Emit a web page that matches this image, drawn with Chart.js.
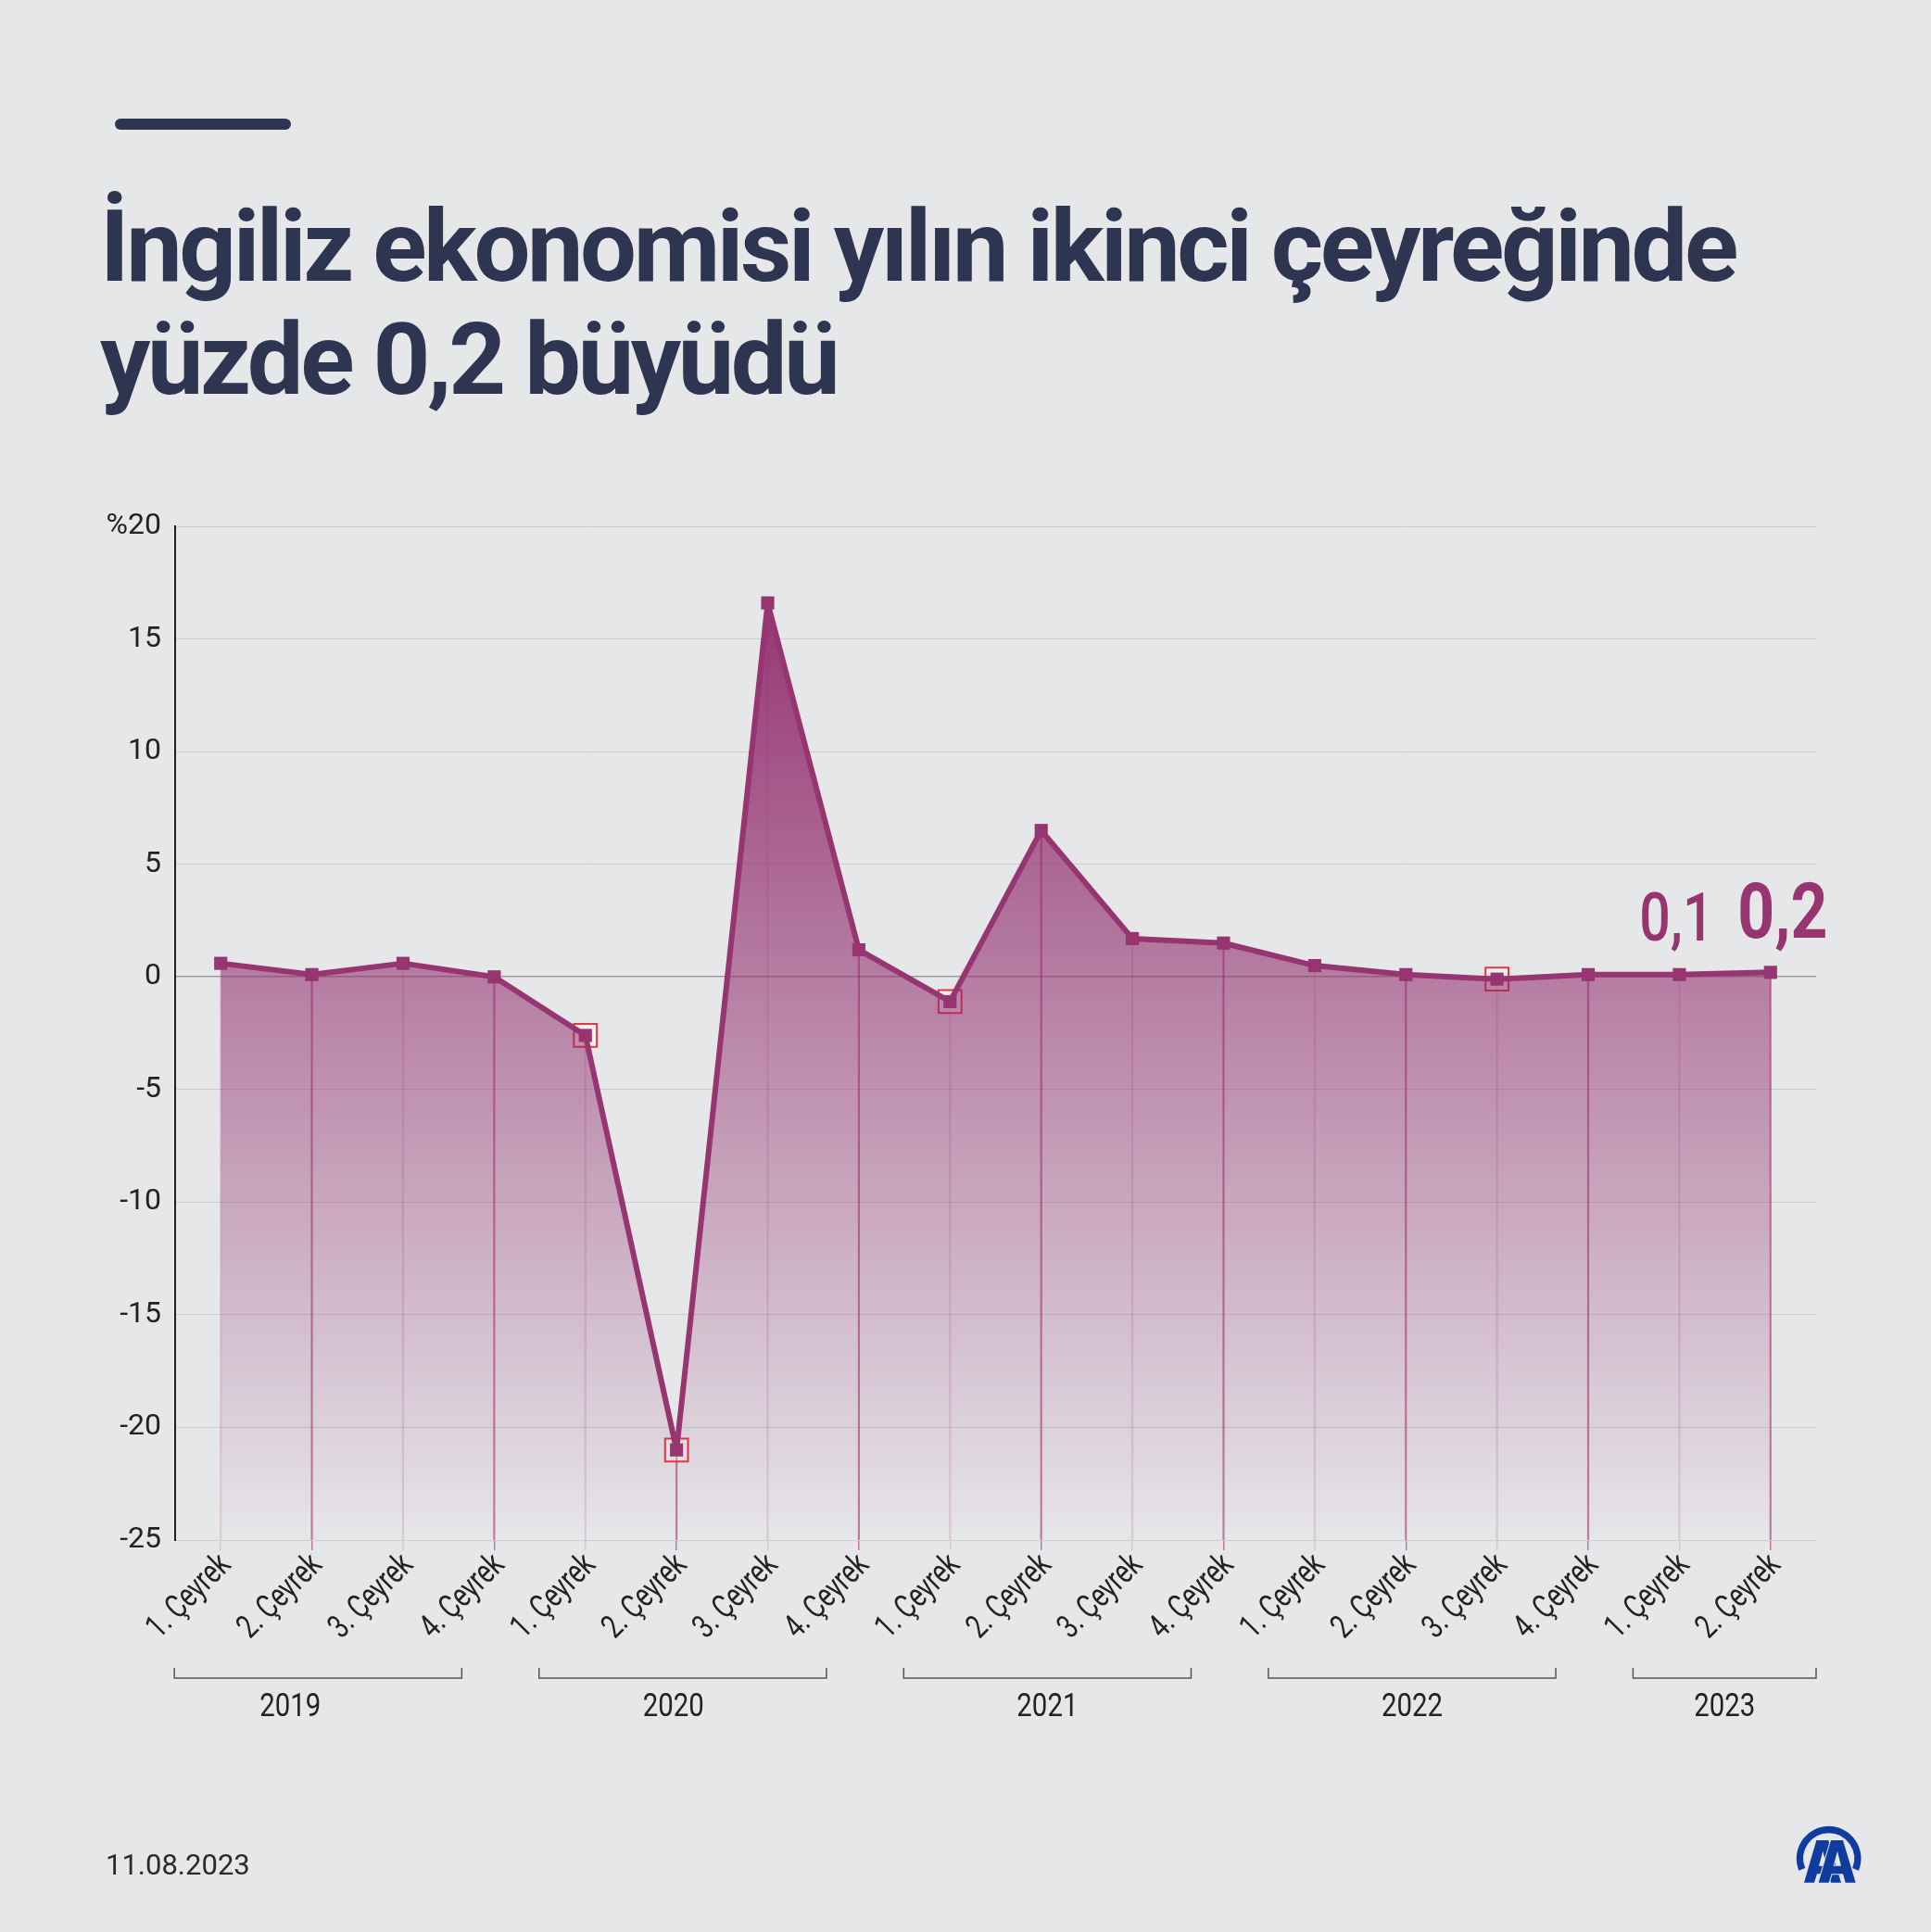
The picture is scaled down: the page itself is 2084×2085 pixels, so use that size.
<!DOCTYPE html>
<html lang="tr">
<head>
<meta charset="utf-8">
<title>İngiliz ekonomisi</title>
<script src="https://cdn.jsdelivr.net/npm/chart.js@4.4.0/dist/chart.umd.min.js"></script>
<style>
  html, body { margin: 0; padding: 0; background: #e6e7e9; }
  body { width: 2084px; height: 2085px; position: relative; overflow: hidden; font-family: Roboto, sans-serif; }
  .topbar { position: absolute; left: 124px; top: 128px; width: 190px; height: 12px; border-radius: 6px; background: #2d3550; }
  h1 { position: absolute; left: 108px; top: 205px; margin: 0; font: 700 108px/122px Roboto, sans-serif; letter-spacing: -3.4px; color: #2d3550; white-space: nowrap; }
  .date { position: absolute; left: 114px; top: 1997px; font: 400 31px/31px Roboto, sans-serif; color: #2a2a2a; }
  #chart { position: absolute; left: 0; top: 0; }
  .logo { position: absolute; left: 1925px; top: 1955px; }
</style>
</head>
<body>
<div class="topbar"></div>
<h1>İngiliz ekonomisi yılın ikinci çeyreğinde<br>yüzde 0,2 büyüdü</h1>
<canvas id="chart" width="2084" height="2085"></canvas>
<div class="date">11.08.2023</div>
<svg class="logo" width="100" height="100" viewBox="0 0 300 300">
  <path d="M59.3 187 A93.5 93.5 0 1 1 232.7 187" fill="none" stroke="#0f3c9f" stroke-width="22"/>
  <path fill="#0f3c9f" fill-rule="evenodd" d="M66 230 L106 93 L145 93 L186 230 L153 230 L145 202 L108 202 L99 230 Z M114 176 L127 128 L139 176 Z"/>
  <path fill="#0f3c9f" fill-rule="evenodd" stroke="#e6e7e9" stroke-width="6" paint-order="stroke" d="M113 230 L153 93 L192 93 L233 230 L200 230 L192 202 L155 202 L146 230 Z M161 176 L174 128 L186 176 Z"/>
</svg>
<script>
// quarterly GDP growth, %
const quarters = ['1. Çeyrek', '2. Çeyrek', '3. Çeyrek', '4. Çeyrek',
                  '1. Çeyrek', '2. Çeyrek', '3. Çeyrek', '4. Çeyrek',
                  '1. Çeyrek', '2. Çeyrek', '3. Çeyrek', '4. Çeyrek',
                  '1. Çeyrek', '2. Çeyrek', '3. Çeyrek', '4. Çeyrek',
                  '1. Çeyrek', '2. Çeyrek'];
const growth = [0.6, 0.1, 0.6, 0.0,
                -2.6, -21.0, 16.6, 1.2,
                -1.1, 6.5, 1.7, 1.5,
                0.5, 0.1, -0.1, 0.1,
                0.1, 0.2];
const years = ['2019', '2020', '2021', '2022', '2023'];
const quartersInYear = [4, 4, 4, 4, 2];
const labelledPoints = [16, 17];
const yMin = -25, yMax = 20, yStep = 5;

const lineColor = '#963570';
const dropDark = 'rgba(160, 30, 100, 0.55)';
const dropLight = 'rgba(160, 30, 100, 0.15)';

const fillGradient = (ctx) => {
    const chart = ctx.chart;
    const area = chart.chartArea;
    if (!area) return 'rgba(143, 40, 105, 0.5)';
    const g = chart.ctx.createLinearGradient(0, area.top, 0, area.bottom);
    g.addColorStop(0, 'rgba(143, 40, 105, 1)');
    g.addColorStop(1, 'rgba(143, 40, 105, 0)');
    return g;
};

// rotated, condensed quarter labels
const quarterLabels = {
    id: 'quarterLabels',
    afterDraw(chart) {
        const { ctx, chartArea } = chart;
        const x = chart.scales.x;
        ctx.save();
        ctx.fillStyle = '#222';
        ctx.font = '36px Roboto, sans-serif';
        ctx.textAlign = 'right';
        ctx.textBaseline = 'middle';
        quarters.forEach((q, i) => {
            ctx.save();
            ctx.translate(x.getPixelForValue(i) + 6, chartArea.bottom + 22);
            ctx.rotate(-Math.PI / 4);
            ctx.scale(0.76, 1);
            ctx.fillText(q, 0, 0);
            ctx.restore();
        });
        ctx.restore();
    }
};

// year brackets under the quarter labels
const yearBrackets = {
    id: 'yearBrackets',
    afterDraw(chart) {
        const { ctx, chartArea } = chart;
        const x = chart.scales.x;
        const lineY = chartArea.bottom + 149;
        let start = 0;
        ctx.save();
        ctx.strokeStyle = '#555';
        ctx.lineWidth = 1.5;
        ctx.fillStyle = '#222';
        ctx.font = '35px Roboto, sans-serif';
        ctx.textAlign = 'center';
        ctx.textBaseline = 'middle';
        years.forEach((year, i) => {
            const end = start + quartersInYear[i] - 1;
            const x0 = x.getPixelForValue(start) - 50;
            const x1 = i === years.length - 1 ? chartArea.right : x.getPixelForValue(end) - 35;
            ctx.beginPath();
            ctx.moveTo(x0, lineY - 11);
            ctx.lineTo(x0, lineY);
            ctx.lineTo(x1, lineY);
            ctx.lineTo(x1, lineY - 11);
            ctx.stroke();
            ctx.save();
            ctx.translate((x0 + x1) / 2 - (i === 0 ? 30 : i === 1 ? 10 : 0), chartArea.bottom + 181);
            ctx.scale(0.84, 1);
            ctx.fillText(year, 0, 0);
            ctx.restore();
            start = end + 1;
        });
        ctx.restore();
    }
};

// big value labels on the last two quarters
const valueLabels = {
    id: 'valueLabels',
    afterDatasetsDraw(chart) {
        const { ctx } = chart;
        const meta = chart.getDatasetMeta(2);
        ctx.save();
        ctx.fillStyle = lineColor;
        ctx.textAlign = 'center';
        ctx.textBaseline = 'alphabetic';
        labelledPoints.forEach((idx, k) => {
            const pt = meta.data[idx];
            const last = k === labelledPoints.length - 1;
            const text = growth[idx].toFixed(1).replace('.', ',');
            ctx.save();
            ctx.translate(pt.x + (last ? 13 : -3), pt.y - 37);
            ctx.scale(last ? 0.84 : 0.82, 1);
            ctx.font = last ? '700 83px Roboto' : '500 72px Roboto';
            ctx.fillText(text, 0, 0);
            ctx.restore();
        });
        ctx.restore();
    }
};

new Chart(document.getElementById('chart'), {
    type: 'line',
    data: {
        labels: quarters,
        datasets: [{
            type: 'bar',
            data: growth.map(v => [yMin, v]),
            backgroundColor: growth.map((v, i) => i % 2 ? dropDark : dropLight),
            barThickness: 1.5,
            borderWidth: 0,
            order: 3
        }, {
            // red boxes around the negative quarters
            data: growth,
            showLine: false,
            fill: false,
            pointStyle: 'rect',
            pointRadius: growth.map(v => v < 0 ? 17.5 : 0),
            pointBackgroundColor: 'rgba(255, 255, 255, 0.35)',
            pointBorderColor: '#e8343c',
            pointBorderWidth: 2,
            order: 2
        }, {
            data: growth,
            borderColor: lineColor,
            borderWidth: 6,
            borderJoinStyle: 'bevel',
            tension: 0,
            fill: 'start',
            backgroundColor: fillGradient,
            pointStyle: 'rect',
            pointRadius: 10,
            pointBorderWidth: 0,
            pointBackgroundColor: lineColor,
            order: 1
        }]
    },
    options: {
        responsive: false,
        devicePixelRatio: 1,
        animation: false,
        events: [],
        layout: { padding: { left: 100, right: 124, top: 568, bottom: 273 } },
        plugins: { legend: { display: false }, tooltip: { enabled: false } },
        scales: {
            x: {
                type: 'category',
                offset: true,
                afterFit: (s) => { s.height = 150; },
                grid: {
                    offset: false,
                    drawOnChartArea: false,
                    drawTicks: true,
                    tickLength: 11,
                    lineWidth: 1.5,
                    color: (c) => c.index % 2 ? dropDark : dropLight
                },
                border: { display: false },
                ticks: { display: false, autoSkip: false }
            },
            y: {
                min: yMin,
                max: yMax,
                afterFit: (s) => { s.width = 89; },
                grid: {
                    drawTicks: false,
                    color: (c) => c.tick.value === 0 ? '#9c9c9e' : '#cbccce',
                    lineWidth: (c) => c.tick.value === 0 ? 1.5 : 1
                },
                border: { display: true, color: '#222', width: 2 },
                ticks: {
                    stepSize: yStep,
                    padding: 15,
                    color: '#222',
                    font: { family: 'Roboto', size: 32 },
                    callback: (v) => v === yMax ? '%' + v : String(v)
                }
            }
        }
    },
    plugins: [quarterLabels, yearBrackets, valueLabels]
});
</script>
</body>
</html>
